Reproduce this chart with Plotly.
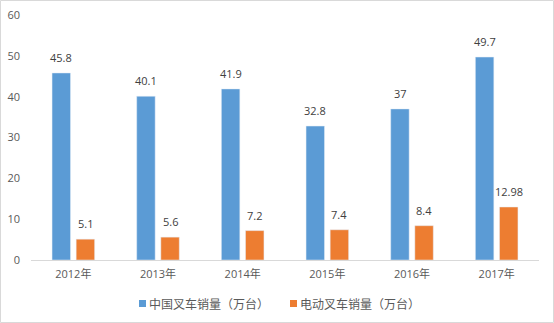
import plotly.graph_objects as go

# Annual forklift sales, 10k units
years = ["2012年", "2013年", "2014年", "2015年", "2016年", "2017年"]
china_forklift = [45.8, 40.1, 41.9, 32.8, 37, 49.7]
electric_forklift = [5.1, 5.6, 7.2, 7.4, 8.4, 12.98]
series_names = ["中国叉车销量（万台）", "电动叉车销量（万台）"]
series_colors = ["#5B9BD5", "#ED7D31"]
y_ticks = [0, 10, 20, 30, 40, 50, 60]

W, H = 554, 323
ML, MR, MT, MB = 31, 15, 15, 63
PW, PH = W - ML - MR, H - MT - MB
FONT = "Open Sans, Noto Sans CJK SC, sans-serif"
CJK_FONT = "Noto Sans CJK SC, sans-serif"
TEXT_GRAY = "#595959"


def px_x(px):
    """Pixel column -> paper x."""
    return (px - ML) / PW


def px_y(py):
    """Pixel row -> paper y."""
    return (H - MB - py) / PH


fig = go.Figure()
series = [china_forklift, electric_forklift]
for name, vals, color in zip(series_names, series, series_colors):
    fig.add_trace(go.Bar(x=years, y=vals, name=name, marker_color=color,
                         showlegend=False, cliponaxis=False))

# Value labels above each bar
for vals, shift in zip(series, [-12, 12]):
    for cat, v in zip(years, vals):
        fig.add_annotation(
            x=cat, y=v, text=f"{v:g}", showarrow=False,
            xref="x", yref="y", xanchor="center", yanchor="bottom",
            xshift=shift, yshift=6,
            font=dict(size=11, color="#404040", family=FONT),
        )

# Legend: small coloured squares followed by the series names
legend_items = [(139, series_names[0], series_colors[0]),
                (290, series_names[1], series_colors[1])]
for sx, name, color in legend_items:
    fig.add_shape(type="rect", xref="paper", yref="paper",
                  x0=px_x(sx), x1=px_x(sx + 7), y0=px_y(307), y1=px_y(300),
                  fillcolor=color, line=dict(width=0))
    fig.add_annotation(x=px_x(sx + 8), y=px_y(303.5), xref="paper", yref="paper",
                       xanchor="left", yanchor="middle", showarrow=False,
                       text=name, font=dict(size=12, color=TEXT_GRAY, family=CJK_FONT))

# Light outer frame around the whole chart
fig.add_shape(type="rect", xref="paper", yref="paper",
              x0=px_x(0.5), x1=px_x(W - 0.5), y0=px_y(H - 0.5), y1=px_y(0.5),
              line=dict(color="#D9D9D9", width=1), layer="below")

fig.update_layout(
    width=W, height=H,
    margin=dict(l=ML, r=MR, t=MT, b=MB, autoexpand=False),
    paper_bgcolor="white", plot_bgcolor="white",
    barmode="group", bargap=0.43, bargroupgap=0.235,
    font=dict(family=FONT, size=11, color=TEXT_GRAY),
    showlegend=False,
    xaxis=dict(
        showline=True, linecolor="#D9D9D9", linewidth=1,
        ticks="", showgrid=False, ticklabelstandoff=4,
        tickfont=dict(size=11, color=TEXT_GRAY),
    ),
    yaxis=dict(
        range=[0, 60], tickvals=y_ticks, showgrid=False, zeroline=False,
        showline=False, ticks="", ticklabelstandoff=10,
        tickfont=dict(size=11, color=TEXT_GRAY),
    ),
)

fig.write_html("out.html")
